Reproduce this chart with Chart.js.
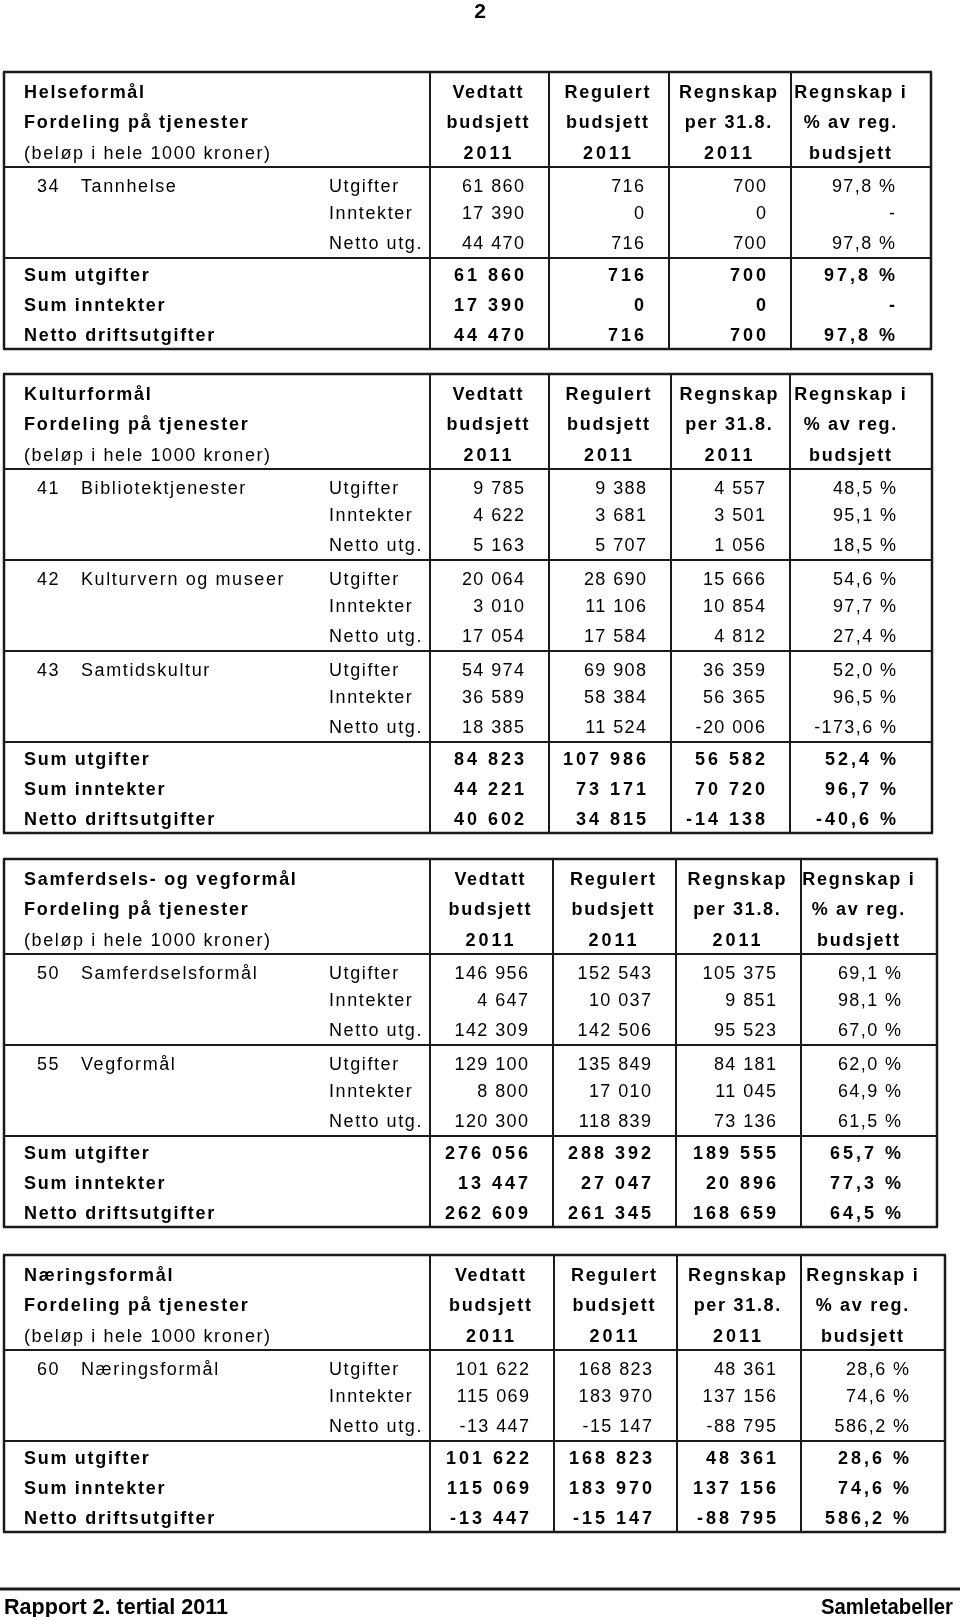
<!DOCTYPE html>
<html>
<head>
<meta charset="utf-8">
<script src="https://cdn.jsdelivr.net/npm/chart.js@4.4.0/dist/chart.umd.min.js"></script>
<style>
  html, body { margin: 0; padding: 0; background: #fff; }
  canvas { display: block; }
</style>
</head>
<body>
<canvas id="sheet" width="960" height="1617"></canvas>
<script>
var pageNumber = '2';
var footerLeft = 'Rapport 2. tertial 2011';
var footerRight = 'Samletabeller';

var tableTitles = ['Helseformål', 'Kulturformål', 'Samferdsels- og vegformål', 'Næringsformål'];
var subTitles = ['Fordeling på tjenester', '(beløp i hele 1000 kroner)'];
var columnHeads = [
  ['Vedtatt', 'budsjett', '2011'],
  ['Regulert', 'budsjett', '2011'],
  ['Regnskap', 'per 31.8.', '2011'],
  ['Regnskap i', '% av reg.', 'budsjett']
];
var rowKinds = ['Utgifter', 'Inntekter', 'Netto utg.'];
var sumLabels = ['Sum utgifter', 'Sum inntekter', 'Netto driftsutgifter'];

// Helseformål
var helseServices = [['34', 'Tannhelse']];
var helseUtgifter = [[61860, 716, 700, 97.8]];
var helseInntekter = [[17390, 0, 0, null]];
var helseNetto = [[44470, 716, 700, 97.8]];
var helseSums = [[61860, 716, 700, 97.8], [17390, 0, 0, null], [44470, 716, 700, 97.8]];

// Kulturformål
var kulturServices = [['41', 'Bibliotektjenester'], ['42', 'Kulturvern og museer'], ['43', 'Samtidskultur']];
var kulturUtgifter = [[9785, 9388, 4557, 48.5], [20064, 28690, 15666, 54.6], [54974, 69908, 36359, 52.0]];
var kulturInntekter = [[4622, 3681, 3501, 95.1], [3010, 11106, 10854, 97.7], [36589, 58384, 56365, 96.5]];
var kulturNetto = [[5163, 5707, 1056, 18.5], [17054, 17584, 4812, 27.4], [18385, 11524, -20006, -173.6]];
var kulturSums = [[84823, 107986, 56582, 52.4], [44221, 73171, 70720, 96.7], [40602, 34815, -14138, -40.6]];

// Samferdsels- og vegformål
var samferdselServices = [['50', 'Samferdselsformål'], ['55', 'Vegformål']];
var samferdselUtgifter = [[146956, 152543, 105375, 69.1], [129100, 135849, 84181, 62.0]];
var samferdselInntekter = [[4647, 10037, 9851, 98.1], [8800, 17010, 11045, 64.9]];
var samferdselNetto = [[142309, 142506, 95523, 67.0], [120300, 118839, 73136, 61.5]];
var samferdselSums = [[276056, 288392, 189555, 65.7], [13447, 27047, 20896, 77.3], [262609, 261345, 168659, 64.5]];

// Næringsformål
var naeringServices = [['60', 'Næringsformål']];
var naeringUtgifter = [[101622, 168823, 48361, 28.6]];
var naeringInntekter = [[115069, 183970, 137156, 74.6]];
var naeringNetto = [[-13447, -15147, -88795, 586.2]];
var naeringSums = [[101622, 168823, 48361, 28.6], [115069, 183970, 137156, 74.6], [-13447, -15147, -88795, 586.2]];

var tables = [
  { services: helseServices, utg: helseUtgifter, inn: helseInntekter, net: helseNetto, sums: helseSums },
  { services: kulturServices, utg: kulturUtgifter, inn: kulturInntekter, net: kulturNetto, sums: kulturSums },
  { services: samferdselServices, utg: samferdselUtgifter, inn: samferdselInntekter, net: samferdselNetto, sums: samferdselSums },
  { services: naeringServices, utg: naeringUtgifter, inn: naeringInntekter, net: naeringNetto, sums: naeringSums }
];

// ---- layout (page units, mapped through the chart scales) ----
var tableTops = [72, 374, 859, 1255];
var colEdges = [
  [4, 430, 549, 669, 791, 931],
  [4, 430, 549, 671, 790, 932],
  [4, 430, 553, 676, 801, 937],
  [4, 430, 554, 677, 801, 945]
];
var headH = 95, groupH = 91, sumH = 91;
var headRows = [19, 49, 80], groupRows = [18, 45, 75], sumRows = [16, 46, 76];
var FONT = '"Liberation Sans", Arial, Helvetica, sans-serif';

function fmtNum(v) {
  var s = Math.abs(v).toString().replace(/\B(?=(\d{3})+(?!\d))/g, ' ');
  return (v < 0 ? '-' : '') + s;
}
function fmtPct(v) {
  if (v === null) return '-';
  return v.toFixed(1).replace('.', ',') + ' %';
}

var tablePlugin = {
  id: 'tablePlugin',
  afterDraw: function(chart) {
    var ctx = chart.ctx;
    var X = function(v) { return chart.scales.x.getPixelForValue(v); };
    var Y = function(v) { return chart.scales.y.getPixelForValue(v); };

    function text(str, x, yc, bold, spacing, align) {
      ctx.font = (bold ? '700 ' : '400 ') + '18px ' + FONT;
      ctx.letterSpacing = spacing + 'px';
      ctx.textAlign = align || 'left';
      ctx.textBaseline = 'alphabetic';
      ctx.fillStyle = '#000';
      var px = X(x);
      if (align === 'right') px += spacing; // trailing spacing
      if (align === 'center') px += spacing / 2;
      ctx.fillText(str, px, Y(yc) + 6.5);
    }
    function fitText(str, x, yb, size, width, align) {
      ctx.save();
      ctx.font = '700 ' + size + 'px ' + FONT;
      ctx.letterSpacing = '0px';
      ctx.textBaseline = 'alphabetic';
      ctx.textAlign = 'left';
      ctx.fillStyle = '#000';
      var w = ctx.measureText(str).width;
      var k = width / w;
      var left = align === 'right' ? X(x) - width : X(x);
      ctx.translate(left, Y(yb));
      ctx.scale(k, 1);
      ctx.fillText(str, 0, 0);
      ctx.restore();
    }
    function hline(x0, x1, y, w) {
      ctx.beginPath();
      ctx.lineWidth = w;
      ctx.strokeStyle = '#1a1a1a';
      ctx.moveTo(X(x0), Y(y));
      ctx.lineTo(X(x1), Y(y));
      ctx.stroke();
    }
    function vline(x, y0, y1, w) {
      ctx.beginPath();
      ctx.lineWidth = w;
      ctx.strokeStyle = '#1a1a1a';
      ctx.moveTo(X(x), Y(y0));
      ctx.lineTo(X(x), Y(y1));
      ctx.stroke();
    }
    function numCells(vals, edges, yc, bold) {
      var sp = bold ? 3.0 : 1.4;
      for (var c = 0; c < 3; c++) {
        text(fmtNum(vals[c]), edges[c + 2] - 25, yc, bold, sp, 'right');
      }
      text(fmtPct(vals[3]), edges[5] - 36, yc, bold, sp, 'right');
    }

    // page number
    ctx.font = '700 21px ' + FONT;
    ctx.letterSpacing = '0px';
    ctx.textAlign = 'center';
    ctx.textBaseline = 'alphabetic';
    ctx.fillStyle = '#000';
    ctx.fillText(pageNumber, X(480), Y(18));

    tables.forEach(function(t, i) {
      var top = tableTops[i];
      var e = colEdges[i];
      var headBottom = top + headH;
      var bottom = headBottom + t.services.length * groupH + sumH;

      // header block
      text(tableTitles[i], 24, top + headRows[0], true, 1.7);
      text(subTitles[0], 24, top + headRows[1], true, 1.7);
      text(subTitles[1], 24, top + headRows[2], false, 1.6);
      for (var c = 0; c < 4; c++) {
        var cx = (e[c + 1] + e[c + 2]) / 2 + (c === 3 ? -11 : -2);
        for (var r = 0; r < 3; r++) {
          var s = columnHeads[c][r];
          text(s, cx, top + headRows[r], true, /^\d+$/.test(s) ? 3.0 : 1.7, 'center');
        }
      }

      // service groups
      t.services.forEach(function(sv, g) {
        var gy = headBottom + g * groupH;
        text(sv[0], 37, gy + groupRows[0], false, 1.4);
        text(sv[1], 81, gy + groupRows[0], false, 1.6);
        var rowsVals = [t.utg[g], t.inn[g], t.net[g]];
        for (var r = 0; r < 3; r++) {
          text(rowKinds[r], 329, gy + groupRows[r], false, 1.6);
          numCells(rowsVals[r], e, gy + groupRows[r], false);
        }
        hline(e[0], e[5], gy + groupH, 2);
      });

      // sums
      var sy = headBottom + t.services.length * groupH;
      for (var r2 = 0; r2 < 3; r2++) {
        text(sumLabels[r2], 24, sy + sumRows[r2], true, 1.7);
        numCells(t.sums[r2], e, sy + sumRows[r2], true);
      }

      // grid
      hline(e[0] - 1, e[5] + 1, top, 2.5);
      hline(e[0], e[5], headBottom, 2);
      hline(e[0] - 1, e[5] + 1, bottom, 2.5);
      vline(e[0], top, bottom, 2.5);
      vline(e[5], top, bottom, 2.5);
      for (var k = 1; k < 5; k++) vline(e[k], top, bottom, 2);
    });

    // footer
    hline(0, 960, 1589, 3);
    fitText(footerLeft, 4, 1614, 22, 224, 'left');
    fitText(footerRight, 953, 1614, 22, 132, 'right');
  }
};

new Chart(document.getElementById('sheet'), {
  type: 'scatter',
  data: { datasets: [] },
  options: {
    responsive: false,
    animation: false,
    layout: { padding: 0 },
    plugins: { legend: { display: false }, tooltip: { enabled: false }, title: { display: false } },
    scales: {
      x: { type: 'linear', min: 0, max: 960, display: false },
      y: { type: 'linear', min: 0, max: 1617, reverse: true, display: false }
    }
  },
  plugins: [tablePlugin]
});
</script>
</body>
</html>
